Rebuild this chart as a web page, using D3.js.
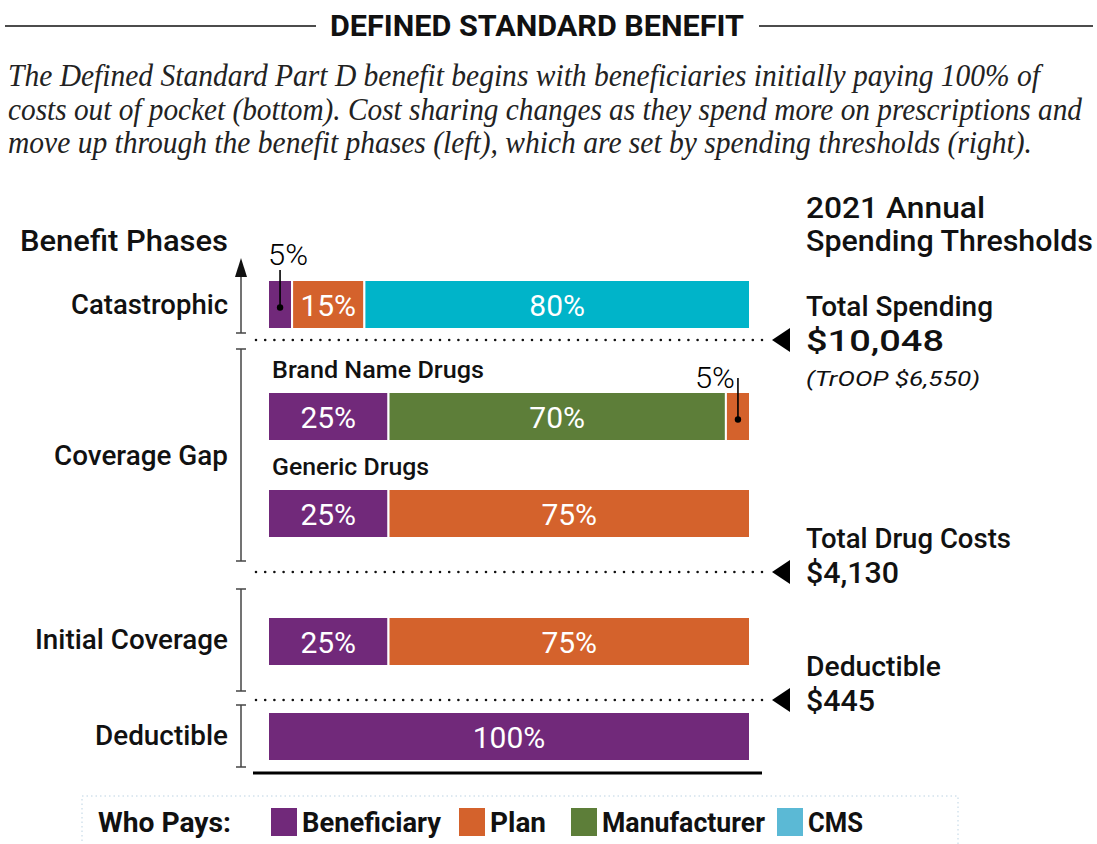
<!DOCTYPE html>
<html><head><meta charset="utf-8">
<script src="https://cdn.jsdelivr.net/npm/d3@7"></script>
<style>body{margin:0;background:#fff}svg{display:block}</style>
</head><body>
<svg id="c" width="1097" height="844"></svg>
<script>
// ---------- DATA ----------
const payers = ["Beneficiary", "Plan", "Manufacturer", "CMS"];
const rows = ["Catastrophic", "Brand Name Drugs", "Generic Drugs", "Initial Coverage", "Deductible"];
// values per payer (Beneficiary, Plan, Manufacturer, CMS)
const catastrophic = [5, 15, 0, 80];
const brandName = [25, 5, 70, 0];
const generic = [25, 75, 0, 0];
const initialCoverage = [25, 75, 0, 0];
const deductible = [100, 0, 0, 0];
const rowValues = [catastrophic, brandName, generic, initialCoverage, deductible];
// stacking order of payers within each row
const stackOrders = [
  ["Beneficiary", "Plan", "CMS"],
  ["Beneficiary", "Manufacturer", "Plan"],
  ["Beneficiary", "Plan"],
  ["Beneficiary", "Plan"],
  ["Beneficiary"]
];
const phases = ["Catastrophic", "Coverage Gap", "Initial Coverage", "Deductible"];
const thresholdLabels = ["Total Spending", "Total Drug Costs", "Deductible"];
const thresholdValues = ["$10,048", "$4,130", "$445"];
const thresholdNote = "(TrOOP $6,550)";
const subRowLabels = ["Brand Name Drugs", "Generic Drugs"];
const title = "DEFINED STANDARD BENEFIT";
const subtitle = [
  "The Defined Standard Part D benefit begins with beneficiaries initially paying 100% of",
  "costs out of pocket (bottom). Cost sharing changes as they spend more on prescriptions and",
  "move up through the benefit phases (left), which are set by spending thresholds (right)."
];

// ---------- LAYOUT / STYLE ----------
const colors = d3.scaleOrdinal(payers, ["#71297A", "#D4622C", "#5D7E39", "#00B4C9"]);
const legendColors = d3.scaleOrdinal(payers, ["#71297A", "#D4622C", "#5D7E39", "#5BB9D5"]);
const rowTop = d3.scaleOrdinal(rows, [280, 392, 489, 617, 712]);
const rowH = 49;
const x = d3.scaleLinear().domain([0, 100]).range([268, 750]);
const sans = "Roboto, 'Open Sans', sans-serif";

const svg = d3.select("#c");

function txt(xp, yp, s, size, len, opts = {}) {
  const t = (opts.parent || svg).append("text").attr("x", xp).attr("y", yp)
    .attr("font-family", opts.family || sans)
    .attr("font-weight", opts.weight || 500)
    .attr("font-size", size)
    .attr("fill", opts.fill || "#111")
    .text(s);
  if (opts.anchor) t.attr("text-anchor", opts.anchor);
  if (opts.style) t.attr("font-style", opts.style);
  if (len) t.attr("textLength", len).attr("lengthAdjust", "spacingAndGlyphs");
  return t;
}

// title
txt(537, 36, title, 29, 414, { anchor: "middle", weight: 700 });
svg.append("line").attr("x1", 5).attr("x2", 316).attr("y1", 26).attr("y2", 26).attr("stroke", "#111").attr("stroke-width", 1.5);
svg.append("line").attr("x1", 759).attr("x2", 1093).attr("y1", 26).attr("y2", 26).attr("stroke", "#111").attr("stroke-width", 1.5);

// subtitle: condensed italic serif (vertical stretch keeps widths)
const subLens = [1032, 1074, 1024];
subtitle.forEach((s, i) => {
  const g = svg.append("g").attr("transform", `translate(8,${86 + i * 33.5}) scale(1,1.18)`);
  txt(0, 0, s, 27, subLens[i],
    { parent: g, family: "'Liberation Serif', serif", style: "italic", weight: 400, fill: "#222" });
});

// headers
txt(228, 251, "Benefit Phases", 29, 208, { anchor: "end" });
txt(806, 218, "2021 Annual", 30, 179);
txt(806, 251, "Spending Thresholds", 30, 287);

// phase labels
const phaseY = [314, 465, 649, 745];
const phaseLen = [157, 174, 193, 133];
phases.forEach((p, i) => txt(228, phaseY[i], p, 27, phaseLen[i], { anchor: "end" }));

// phase brackets
const brackets = [[258, 333, true], [349, 561], [589, 691], [705, 767]];
const bg = svg.append("g").attr("stroke", "#444").attr("stroke-width", 1.5);
brackets.forEach(b => {
  bg.append("line").attr("x1", 241).attr("x2", 241).attr("y1", b[2] ? b[0] + 12 : b[0]).attr("y2", b[1]);
  bg.append("line").attr("x1", 236).attr("x2", 246).attr("y1", b[1]).attr("y2", b[1]);
  if (!b[2]) bg.append("line").attr("x1", 236).attr("x2", 246).attr("y1", b[0]).attr("y2", b[0]);
  else svg.append("path").attr("d", `M241,${b[0]} L247,${b[0] + 19} L235,${b[0] + 19} Z`).attr("fill", "#111");
});

// sub-row labels
const subLen = [212, 157];
subRowLabels.forEach((s, i) => txt(272, rowTop(s) - 14, s, 24, subLen[i]));

// bars
rows.forEach((r, ri) => {
  const vals = rowValues[ri];
  let acc = 0;
  const segs = stackOrders[ri].map(p => {
    const v = vals[payers.indexOf(p)];
    const s = { p, v, x0: acc, x1: acc + v };
    acc += v;
    return s;
  });
  const g = svg.append("g");
  g.selectAll("rect").data(segs).join("rect")
    .attr("x", d => x(d.x0)).attr("width", d => x(d.x1) - x(d.x0))
    .attr("y", rowTop(r)).attr("height", rowH)
    .attr("fill", d => colors(d.p)).attr("stroke", "#fff").attr("stroke-width", 2);
  g.selectAll("text").data(segs.filter(d => d.v >= 10)).join("text")
    .attr("x", d => (x(d.x0) + x(d.x1)) / 2).attr("y", rowTop(r) + rowH / 2 + 11)
    .attr("text-anchor", "middle").attr("fill", "#fff")
    .attr("font-family", sans).attr("font-size", 30).text(d => d.v + "%");
  // small segment callouts
  segs.filter(d => d.v < 10).forEach(d => {
    const cx = (x(d.x0) + x(d.x1)) / 2;
    const cy = rowTop(r) + rowH * 0.56;
    const left = d.x0 === 0;
    svg.append("line").attr("x1", cx).attr("x2", cx).attr("y1", left ? rowTop(r) - 10 : rowTop(r) - 14).attr("y2", cy)
      .attr("stroke", "#000").attr("stroke-width", 1.6);
    svg.append("circle").attr("cx", cx).attr("cy", cy).attr("r", 3.2).attr("fill", "#000");
    txt(left ? cx - 12 : cx - 3, left ? rowTop(r) - 15 : rowTop(r) - 4, d.v + "%", 29, 40,
      { anchor: left ? "start" : "end", weight: 300, fill: "#000" });
  });
});

// threshold dotted lines & arrows
const thrY = [340, 572, 700];
const labLen = [187, 205, 135];
const valLen = [138, 93, 69];
thrY.forEach((y, i) => {
  svg.append("line").attr("x1", 256).attr("x2", 766).attr("y1", y).attr("y2", y)
    .attr("stroke", "#111").attr("stroke-width", 2.6).attr("stroke-linecap", "round").attr("stroke-dasharray", "0,9.2");
  svg.append("path").attr("d", `M772,${y} L790,${y - 12} L790,${y + 12} Z`).attr("fill", "#000");
  txt(806, y - 24, thresholdLabels[i], 27, labLen[i]);
  txt(806, y + 11, thresholdValues[i], 29, valLen[i]);
});
txt(806, 386, thresholdNote, 21, 174, { style: "italic", weight: 400 });

// baseline
svg.append("line").attr("x1", 253).attr("x2", 762).attr("y1", 773).attr("y2", 773).attr("stroke", "#000").attr("stroke-width", 3);

// legend
svg.append("rect").attr("x", 82).attr("y", 796).attr("width", 876).attr("height", 60)
  .attr("fill", "none").attr("stroke", "#bcd3e3").attr("stroke-width", 1).attr("stroke-dasharray", "1.5,3");
const lg = "'Liberation Sans Narrow', 'Arial Narrow', " + sans;
txt(98, 832, "Who Pays:", 28, 133, { family: lg, weight: 700 });
const legX = [271, 459, 571, 777];
const legLen = [139, 56, 163, 55];
payers.forEach((p, i) => {
  svg.append("rect").attr("x", legX[i]).attr("y", 808).attr("width", 26).attr("height", 28).attr("fill", legendColors(p));
  txt(legX[i] + 31, 832, p, 28, legLen[i], { family: lg, weight: 700 });
});
</script>
</body></html>
